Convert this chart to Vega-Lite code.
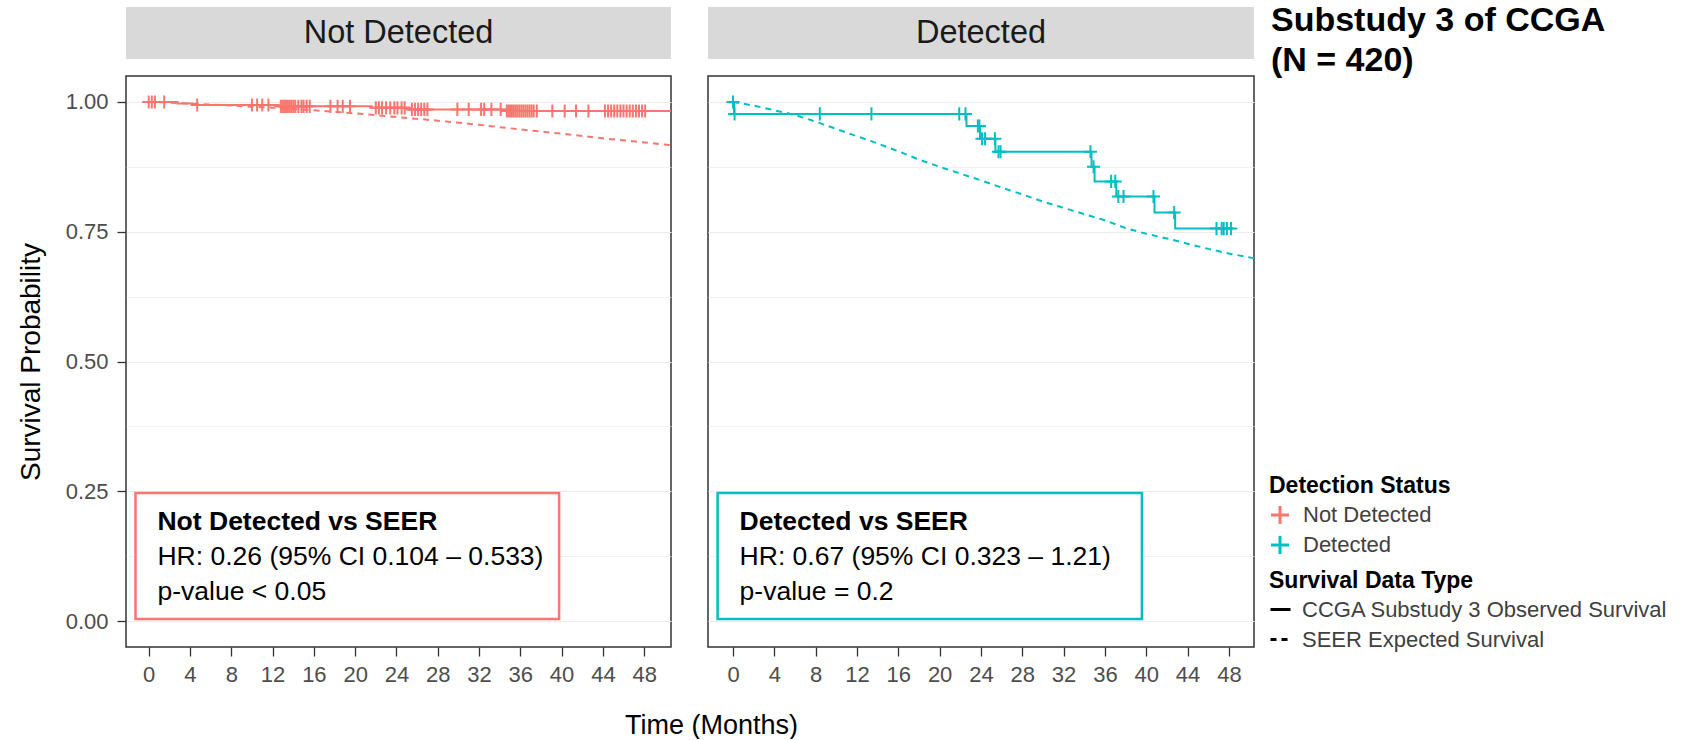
{
  "$schema": "https://vega.github.io/schema/vega-lite/v6.json",
  "padding": {"left": 16, "top": 4, "right": 0, "bottom": 0},
  "background": "white",
  "config": {
    "font": "Liberation Sans",
    "view": {"stroke": null},
    "legend": {
      "titleFont": "Liberation Sans", "labelFont": "Liberation Sans",
      "titleFontSize": 23, "titleFontWeight": "bold", "titleColor": "black",
      "labelFontSize": 22, "labelColor": "#404040",
      "rowPadding": 0, "titlePadding": 6, "labelOffset": 12, "padding": 0,
      "titleLimit": 600, "labelLimit": 600
    }
  },
  "datasets": {
    "km": [
      {"group": "Not Detected", "type": "CCGA Substudy 3 Observed Survival", "t": 0, "surv": 1.0},
      {"group": "Not Detected", "type": "CCGA Substudy 3 Observed Survival", "t": 2.8, "surv": 0.997},
      {"group": "Not Detected", "type": "CCGA Substudy 3 Observed Survival", "t": 4.2, "surv": 0.9943},
      {"group": "Not Detected", "type": "CCGA Substudy 3 Observed Survival", "t": 12.6, "surv": 0.9915},
      {"group": "Not Detected", "type": "CCGA Substudy 3 Observed Survival", "t": 21.6, "surv": 0.9886},
      {"group": "Not Detected", "type": "CCGA Substudy 3 Observed Survival", "t": 25.2, "surv": 0.9857},
      {"group": "Not Detected", "type": "CCGA Substudy 3 Observed Survival", "t": 34.5, "surv": 0.9826},
      {"group": "Not Detected", "type": "CCGA Substudy 3 Observed Survival", "t": 50.6, "surv": 0.9826},
      {"group": "Detected", "type": "CCGA Substudy 3 Observed Survival", "t": 0, "surv": 1.0},
      {"group": "Detected", "type": "CCGA Substudy 3 Observed Survival", "t": 0.1, "surv": 0.977},
      {"group": "Detected", "type": "CCGA Substudy 3 Observed Survival", "t": 22.6, "surv": 0.9535},
      {"group": "Detected", "type": "CCGA Substudy 3 Observed Survival", "t": 23.9, "surv": 0.929},
      {"group": "Detected", "type": "CCGA Substudy 3 Observed Survival", "t": 25.4, "surv": 0.904},
      {"group": "Detected", "type": "CCGA Substudy 3 Observed Survival", "t": 34.7, "surv": 0.875},
      {"group": "Detected", "type": "CCGA Substudy 3 Observed Survival", "t": 35.0, "surv": 0.847},
      {"group": "Detected", "type": "CCGA Substudy 3 Observed Survival", "t": 37.1, "surv": 0.818},
      {"group": "Detected", "type": "CCGA Substudy 3 Observed Survival", "t": 40.8, "surv": 0.787},
      {"group": "Detected", "type": "CCGA Substudy 3 Observed Survival", "t": 42.8, "surv": 0.756},
      {"group": "Detected", "type": "CCGA Substudy 3 Observed Survival", "t": 48.4, "surv": 0.756}
    ],
    "seer": [
      {"group": "Not Detected", "type": "SEER Expected Survival", "t": 0, "surv": 1.0},
      {"group": "Not Detected", "type": "SEER Expected Survival", "t": 4, "surv": 0.997},
      {"group": "Not Detected", "type": "SEER Expected Survival", "t": 8, "surv": 0.993},
      {"group": "Not Detected", "type": "SEER Expected Survival", "t": 12, "surv": 0.989},
      {"group": "Not Detected", "type": "SEER Expected Survival", "t": 16, "surv": 0.984},
      {"group": "Not Detected", "type": "SEER Expected Survival", "t": 20, "surv": 0.978},
      {"group": "Not Detected", "type": "SEER Expected Survival", "t": 24, "surv": 0.971},
      {"group": "Not Detected", "type": "SEER Expected Survival", "t": 28, "surv": 0.964},
      {"group": "Not Detected", "type": "SEER Expected Survival", "t": 32, "surv": 0.956},
      {"group": "Not Detected", "type": "SEER Expected Survival", "t": 36, "surv": 0.947},
      {"group": "Not Detected", "type": "SEER Expected Survival", "t": 40, "surv": 0.939},
      {"group": "Not Detected", "type": "SEER Expected Survival", "t": 44, "surv": 0.930},
      {"group": "Not Detected", "type": "SEER Expected Survival", "t": 48, "surv": 0.922},
      {"group": "Not Detected", "type": "SEER Expected Survival", "t": 50.6, "surv": 0.9166},
      {"group": "Detected", "type": "SEER Expected Survival", "t": 0, "surv": 1.0},
      {"group": "Detected", "type": "SEER Expected Survival", "t": 2, "surv": 0.993},
      {"group": "Detected", "type": "SEER Expected Survival", "t": 4, "surv": 0.984},
      {"group": "Detected", "type": "SEER Expected Survival", "t": 6, "surv": 0.975},
      {"group": "Detected", "type": "SEER Expected Survival", "t": 8, "surv": 0.962},
      {"group": "Detected", "type": "SEER Expected Survival", "t": 10, "surv": 0.948},
      {"group": "Detected", "type": "SEER Expected Survival", "t": 12, "surv": 0.934},
      {"group": "Detected", "type": "SEER Expected Survival", "t": 14, "surv": 0.920},
      {"group": "Detected", "type": "SEER Expected Survival", "t": 16, "surv": 0.905},
      {"group": "Detected", "type": "SEER Expected Survival", "t": 18, "surv": 0.889},
      {"group": "Detected", "type": "SEER Expected Survival", "t": 20, "surv": 0.875},
      {"group": "Detected", "type": "SEER Expected Survival", "t": 22, "surv": 0.862},
      {"group": "Detected", "type": "SEER Expected Survival", "t": 24, "surv": 0.849},
      {"group": "Detected", "type": "SEER Expected Survival", "t": 26, "surv": 0.835},
      {"group": "Detected", "type": "SEER Expected Survival", "t": 28, "surv": 0.822},
      {"group": "Detected", "type": "SEER Expected Survival", "t": 30, "surv": 0.808},
      {"group": "Detected", "type": "SEER Expected Survival", "t": 32, "surv": 0.796},
      {"group": "Detected", "type": "SEER Expected Survival", "t": 34, "surv": 0.784},
      {"group": "Detected", "type": "SEER Expected Survival", "t": 36, "surv": 0.772},
      {"group": "Detected", "type": "SEER Expected Survival", "t": 38, "surv": 0.757},
      {"group": "Detected", "type": "SEER Expected Survival", "t": 40, "surv": 0.746},
      {"group": "Detected", "type": "SEER Expected Survival", "t": 42, "surv": 0.737},
      {"group": "Detected", "type": "SEER Expected Survival", "t": 44, "surv": 0.727},
      {"group": "Detected", "type": "SEER Expected Survival", "t": 46, "surv": 0.717},
      {"group": "Detected", "type": "SEER Expected Survival", "t": 48, "surv": 0.708},
      {"group": "Detected", "type": "SEER Expected Survival", "t": 50.43, "surv": 0.699}
    ],
    "censor": [
      {"group": "Not Detected", "t": 0.0, "surv": 1.0},
      {"group": "Not Detected", "t": 0.3, "surv": 1.0},
      {"group": "Not Detected", "t": 0.6, "surv": 1.0},
      {"group": "Not Detected", "t": 1.5, "surv": 1.0},
      {"group": "Not Detected", "t": 4.7, "surv": 0.9943},
      {"group": "Not Detected", "t": 10.0, "surv": 0.9943},
      {"group": "Not Detected", "t": 10.5, "surv": 0.9943},
      {"group": "Not Detected", "t": 11.0, "surv": 0.9943},
      {"group": "Not Detected", "t": 11.6, "surv": 0.9943},
      {"group": "Not Detected", "t": 12.8, "surv": 0.9915},
      {"group": "Not Detected", "t": 13.0, "surv": 0.9915},
      {"group": "Not Detected", "t": 13.2, "surv": 0.9915},
      {"group": "Not Detected", "t": 13.4, "surv": 0.9915},
      {"group": "Not Detected", "t": 13.6, "surv": 0.9915},
      {"group": "Not Detected", "t": 13.8, "surv": 0.9915},
      {"group": "Not Detected", "t": 14.0, "surv": 0.9915},
      {"group": "Not Detected", "t": 14.2, "surv": 0.9915},
      {"group": "Not Detected", "t": 14.5, "surv": 0.9915},
      {"group": "Not Detected", "t": 14.8, "surv": 0.9915},
      {"group": "Not Detected", "t": 15.0, "surv": 0.9915},
      {"group": "Not Detected", "t": 15.3, "surv": 0.9915},
      {"group": "Not Detected", "t": 15.6, "surv": 0.9915},
      {"group": "Not Detected", "t": 17.6, "surv": 0.9915},
      {"group": "Not Detected", "t": 18.3, "surv": 0.9915},
      {"group": "Not Detected", "t": 18.8, "surv": 0.9915},
      {"group": "Not Detected", "t": 19.5, "surv": 0.9915},
      {"group": "Not Detected", "t": 22.0, "surv": 0.9886},
      {"group": "Not Detected", "t": 22.3, "surv": 0.9886},
      {"group": "Not Detected", "t": 22.6, "surv": 0.9886},
      {"group": "Not Detected", "t": 23.0, "surv": 0.9886},
      {"group": "Not Detected", "t": 23.4, "surv": 0.9886},
      {"group": "Not Detected", "t": 23.8, "surv": 0.9886},
      {"group": "Not Detected", "t": 24.1, "surv": 0.9886},
      {"group": "Not Detected", "t": 24.5, "surv": 0.9886},
      {"group": "Not Detected", "t": 24.8, "surv": 0.9886},
      {"group": "Not Detected", "t": 25.5, "surv": 0.9857},
      {"group": "Not Detected", "t": 25.8, "surv": 0.9857},
      {"group": "Not Detected", "t": 26.1, "surv": 0.9857},
      {"group": "Not Detected", "t": 26.4, "surv": 0.9857},
      {"group": "Not Detected", "t": 26.7, "surv": 0.9857},
      {"group": "Not Detected", "t": 27.0, "surv": 0.9857},
      {"group": "Not Detected", "t": 29.9, "surv": 0.9857},
      {"group": "Not Detected", "t": 31.0, "surv": 0.9857},
      {"group": "Not Detected", "t": 32.2, "surv": 0.9857},
      {"group": "Not Detected", "t": 32.5, "surv": 0.9857},
      {"group": "Not Detected", "t": 33.2, "surv": 0.9857},
      {"group": "Not Detected", "t": 34.1, "surv": 0.9857},
      {"group": "Not Detected", "t": 34.7, "surv": 0.9826},
      {"group": "Not Detected", "t": 34.9, "surv": 0.9826},
      {"group": "Not Detected", "t": 35.1, "surv": 0.9826},
      {"group": "Not Detected", "t": 35.3, "surv": 0.9826},
      {"group": "Not Detected", "t": 35.5, "surv": 0.9826},
      {"group": "Not Detected", "t": 35.7, "surv": 0.9826},
      {"group": "Not Detected", "t": 35.9, "surv": 0.9826},
      {"group": "Not Detected", "t": 36.1, "surv": 0.9826},
      {"group": "Not Detected", "t": 36.3, "surv": 0.9826},
      {"group": "Not Detected", "t": 36.5, "surv": 0.9826},
      {"group": "Not Detected", "t": 36.7, "surv": 0.9826},
      {"group": "Not Detected", "t": 36.9, "surv": 0.9826},
      {"group": "Not Detected", "t": 37.1, "surv": 0.9826},
      {"group": "Not Detected", "t": 37.3, "surv": 0.9826},
      {"group": "Not Detected", "t": 37.6, "surv": 0.9826},
      {"group": "Not Detected", "t": 39.1, "surv": 0.9826},
      {"group": "Not Detected", "t": 40.3, "surv": 0.9826},
      {"group": "Not Detected", "t": 41.4, "surv": 0.9826},
      {"group": "Not Detected", "t": 42.6, "surv": 0.9826},
      {"group": "Not Detected", "t": 44.2, "surv": 0.9826},
      {"group": "Not Detected", "t": 44.5, "surv": 0.9826},
      {"group": "Not Detected", "t": 44.8, "surv": 0.9826},
      {"group": "Not Detected", "t": 45.1, "surv": 0.9826},
      {"group": "Not Detected", "t": 45.4, "surv": 0.9826},
      {"group": "Not Detected", "t": 45.7, "surv": 0.9826},
      {"group": "Not Detected", "t": 46.0, "surv": 0.9826},
      {"group": "Not Detected", "t": 46.3, "surv": 0.9826},
      {"group": "Not Detected", "t": 46.6, "surv": 0.9826},
      {"group": "Not Detected", "t": 46.9, "surv": 0.9826},
      {"group": "Not Detected", "t": 47.2, "surv": 0.9826},
      {"group": "Not Detected", "t": 47.5, "surv": 0.9826},
      {"group": "Not Detected", "t": 47.8, "surv": 0.9826},
      {"group": "Not Detected", "t": 48.1, "surv": 0.9826},
      {"group": "Detected", "t": 0.0, "surv": 1.0},
      {"group": "Detected", "t": 0.15, "surv": 0.977},
      {"group": "Detected", "t": 8.4, "surv": 0.977},
      {"group": "Detected", "t": 13.4, "surv": 0.977},
      {"group": "Detected", "t": 21.9, "surv": 0.977},
      {"group": "Detected", "t": 22.5, "surv": 0.977},
      {"group": "Detected", "t": 23.7, "surv": 0.9535},
      {"group": "Detected", "t": 23.85, "surv": 0.9535},
      {"group": "Detected", "t": 24.1, "surv": 0.929},
      {"group": "Detected", "t": 24.4, "surv": 0.929},
      {"group": "Detected", "t": 25.35, "surv": 0.929},
      {"group": "Detected", "t": 25.7, "surv": 0.904},
      {"group": "Detected", "t": 25.9, "surv": 0.904},
      {"group": "Detected", "t": 34.6, "surv": 0.904},
      {"group": "Detected", "t": 34.9, "surv": 0.875},
      {"group": "Detected", "t": 36.6, "surv": 0.847},
      {"group": "Detected", "t": 37.0, "surv": 0.847},
      {"group": "Detected", "t": 37.3, "surv": 0.818},
      {"group": "Detected", "t": 37.8, "surv": 0.818},
      {"group": "Detected", "t": 40.7, "surv": 0.818},
      {"group": "Detected", "t": 42.7, "surv": 0.787},
      {"group": "Detected", "t": 46.8, "surv": 0.756},
      {"group": "Detected", "t": 47.3, "surv": 0.756},
      {"group": "Detected", "t": 47.5, "surv": 0.756},
      {"group": "Detected", "t": 47.8, "surv": 0.756},
      {"group": "Detected", "t": 48.2, "surv": 0.756}
    ],
    "notes": [
      {"group": "Not Detected", "order": 1, "label": "Not Detected vs SEER"},
      {"group": "Not Detected", "order": 2, "label": "HR: 0.26 (95% CI 0.104 – 0.533)"},
      {"group": "Not Detected", "order": 3, "label": "p-value < 0.05"},
      {"group": "Detected", "order": 1, "label": "Detected vs SEER"},
      {"group": "Detected", "order": 2, "label": "HR: 0.67 (95% CI 0.323 – 1.21)"},
      {"group": "Detected", "order": 3, "label": "p-value = 0.2"}
    ]
  },
  "columns": 3,
  "spacing": {"row": 17, "column": 37},
  "bounds": "flush",
  "concat": [
    {
      "width": 545, "height": 52,
      "view": {"fill": "#d9d9d9", "stroke": null},
      "data": {"values": [{"panel": "Not Detected"}]},
      "mark": {"type": "text", "fontSize": 32.5, "color": "#1a1a1a", "baseline": "middle"},
      "encoding": {
        "x": {"field": "panel", "type": "nominal", "axis": null},
        "text": {"field": "panel"}
      }
    },
    {
      "width": 546, "height": 52,
      "view": {"fill": "#d9d9d9", "stroke": null},
      "data": {"values": [{"panel": "Detected"}]},
      "mark": {"type": "text", "fontSize": 32.5, "color": "#1a1a1a", "baseline": "middle"},
      "encoding": {
        "x": {"field": "panel", "type": "nominal", "axis": null},
        "text": {"field": "panel"}
      }
    },
    {
      "width": 380, "height": 52,
      "view": {"stroke": null},
      "data": {"values": [{"line": "Substudy 3 of CCGA"}, {"line": "(N = 420)"}]},
      "mark": {"type": "text", "align": "left", "baseline": "middle", "fontSize": 34, "fontWeight": "bold", "color": "black", "dx": -20, "dy": 8},
      "encoding": {
        "x": {"datum": 0, "type": "quantitative", "scale": {"domain": [0, 1]}, "axis": null},
        "y": {"field": "line", "type": "nominal", "sort": null, "axis": null, "scale": {"padding": 0.15}},
        "text": {"field": "line"}
      }
    },
    {
      "width": 545, "height": 571,
      "view": {"stroke": "#333333", "strokeWidth": 1.5, "fill": "white"},
      "layer": [
        {
          "data": {"name": "notes"},
          "transform": [{"filter": "datum.group === 'Not Detected' && datum.order === 1"}],
          "mark": {"type": "rect", "fill": "white", "stroke": "#F8766D", "strokeWidth": 2.5},
          "encoding": {
            "x": {"datum": -1.28, "type": "quantitative", "scale": {"domain": [-2.2, 50.6], "nice": false, "zero": false},
              "axis": {"values": [0,4,8,12,16,20,24,28,32,36,40,44,48], "grid": false, "domain": false, "tickSize": 9, "tickColor": "#333333", "tickWidth": 1.3, "labelFontSize": 22, "labelColor": "#4d4d4d", "labelPadding": 8, "labelFlush": false, "labelOverlap": false, "title": "Time (Months)", "titleFontSize": 27, "titleFontWeight": "normal", "titleColor": "black", "titleX": 585, "titlePadding": 27}},
            "x2": {"datum": 39.76},
            "y": {"datum": 0.2467, "type": "quantitative", "scale": {"domain": [-0.05, 1.05], "nice": false, "zero": false},
              "axis": {"values": [0,0.125,0.25,0.375,0.5,0.625,0.75,0.875,1], "labelExpr": "(datum.value*4)%1==0 ? format(datum.value,'.2f') : ''", "grid": true, "gridColor": "#ebebeb", "gridWidth": {"condition": {"test": "(datum.value*4)%1!=0", "value": 0.7}, "value": 1.2}, "domain": false, "tickSize": 9, "tickColor": "#333333", "tickWidth": 1.3, "tickOpacity": {"condition": {"test": "(datum.value*4)%1!=0", "value": 0}, "value": 1}, "labelFontSize": 22, "labelColor": "#4d4d4d", "labelPadding": 9, "labelOverlap": false, "title": "Survival Probability", "titleFontSize": 28, "titleFontWeight": "normal", "titleColor": "black", "titlePadding": 20}},
            "y2": {"datum": 0.004}
          }
        },
        {
          "data": {"name": "seer"},
          "transform": [{"filter": "datum.group === 'Not Detected'"}],
          "mark": {"type": "line", "strokeWidth": 2},
          "encoding": {
            "x": {"field": "t", "type": "quantitative", "scale": {"domain": [-2.2, 50.6], "nice": false, "zero": false}},
            "y": {"field": "surv", "type": "quantitative", "scale": {"domain": [-0.05, 1.05], "nice": false, "zero": false}},
            "color": {"field": "group", "type": "nominal", "scale": {"domain": ["Not Detected", "Detected"], "range": ["#F8766D", "#00BFC4"]},
              "legend": {"title": "Detection Status", "orient": "none", "legendX": 1143, "legendY": 468, "symbolType": "M-1,0H1M0,-1V1", "symbolSize": 324, "symbolStrokeWidth": 3, "labelOffset": 12}},
            "strokeDash": {"field": "type", "type": "nominal", "scale": {"domain": ["CCGA Substudy 3 Observed Survival", "SEER Expected Survival"], "range": [[1, 0], [6, 5]]},
              "legend": {"title": "Survival Data Type", "orient": "none", "legendX": 1143, "legendY": 563, "symbolType": "stroke", "symbolSize": 400, "symbolStrokeWidth": 3, "symbolStrokeColor": "black", "titlePadding": 5, "rowPadding": 7, "labelOffset": 10}}
          }
        },
        {
          "data": {"name": "km"},
          "transform": [{"filter": "datum.group === 'Not Detected'"}],
          "mark": {"type": "line", "interpolate": "step-after", "strokeWidth": 2},
          "encoding": {
            "x": {"field": "t", "type": "quantitative"},
            "y": {"field": "surv", "type": "quantitative"},
            "color": {"field": "group", "type": "nominal"},
            "strokeDash": {"field": "type", "type": "nominal"}
          }
        },
        {
          "data": {"name": "censor"},
          "transform": [{"filter": "datum.group === 'Not Detected'"}],
          "mark": {"type": "point", "shape": "M-1,0H1M0,-1V1", "filled": false, "size": 170, "strokeWidth": 2, "opacity": 1},
          "encoding": {
            "x": {"field": "t", "type": "quantitative"},
            "y": {"field": "surv", "type": "quantitative"},
            "color": {"field": "group", "type": "nominal"}
          }
        },
        {
          "data": {"name": "notes"},
          "transform": [{"filter": "datum.group === 'Not Detected' && datum.order === 1"}],
          "mark": {"type": "text", "align": "left", "baseline": "middle", "fontSize": 26.5, "fontWeight": "bold", "color": "black"},
          "encoding": {"x": {"datum": 0.85, "type": "quantitative"}, "y": {"datum": 0.190, "type": "quantitative"}, "text": {"field": "label"}}
        },
        {
          "data": {"name": "notes"},
          "transform": [{"filter": "datum.group === 'Not Detected' && datum.order === 2"}],
          "mark": {"type": "text", "align": "left", "baseline": "middle", "fontSize": 26.5, "color": "black"},
          "encoding": {"x": {"datum": 0.85, "type": "quantitative"}, "y": {"datum": 0.123, "type": "quantitative"}, "text": {"field": "label"}}
        },
        {
          "data": {"name": "notes"},
          "transform": [{"filter": "datum.group === 'Not Detected' && datum.order === 3"}],
          "mark": {"type": "text", "align": "left", "baseline": "middle", "fontSize": 26.5, "color": "black"},
          "encoding": {"x": {"datum": 0.85, "type": "quantitative"}, "y": {"datum": 0.056, "type": "quantitative"}, "text": {"field": "label"}}
        }
      ]
    },
    {
      "width": 546, "height": 571,
      "view": {"stroke": "#333333", "strokeWidth": 1.5, "fill": "white"},
      "layer": [
        {
          "data": {"name": "notes"},
          "transform": [{"filter": "datum.group === 'Detected' && datum.order === 1"}],
          "mark": {"type": "rect", "fill": "white", "stroke": "#00BFC4", "strokeWidth": 2.5},
          "encoding": {
            "x": {"datum": -1.49, "type": "quantitative", "scale": {"domain": [-2.42, 50.43], "nice": false, "zero": false},
              "axis": {"values": [0,4,8,12,16,20,24,28,32,36,40,44,48], "grid": false, "domain": false, "tickSize": 9, "tickColor": "#333333", "tickWidth": 1.3, "labelFontSize": 22, "labelColor": "#4d4d4d", "labelPadding": 8, "labelFlush": false, "labelOverlap": false, "title": null}},
            "x2": {"datum": 39.58},
            "y": {"datum": 0.2467, "type": "quantitative", "scale": {"domain": [-0.05, 1.05], "nice": false, "zero": false},
              "axis": {"values": [0,0.125,0.25,0.375,0.5,0.625,0.75,0.875,1], "labels": false, "ticks": false, "grid": true, "gridColor": "#ebebeb", "gridWidth": {"condition": {"test": "(datum.value*4)%1!=0", "value": 0.7}, "value": 1.2}, "domain": false, "title": null}},
            "y2": {"datum": 0.004}
          }
        },
        {
          "data": {"name": "seer"},
          "transform": [{"filter": "datum.group === 'Detected'"}],
          "mark": {"type": "line", "strokeWidth": 2},
          "encoding": {
            "x": {"field": "t", "type": "quantitative", "scale": {"domain": [-2.42, 50.43], "nice": false, "zero": false}},
            "y": {"field": "surv", "type": "quantitative", "scale": {"domain": [-0.05, 1.05], "nice": false, "zero": false}},
            "color": {"field": "group", "type": "nominal"},
            "strokeDash": {"field": "type", "type": "nominal"}
          }
        },
        {
          "data": {"name": "km"},
          "transform": [{"filter": "datum.group === 'Detected'"}],
          "mark": {"type": "line", "interpolate": "step-after", "strokeWidth": 2},
          "encoding": {
            "x": {"field": "t", "type": "quantitative"},
            "y": {"field": "surv", "type": "quantitative"},
            "color": {"field": "group", "type": "nominal"},
            "strokeDash": {"field": "type", "type": "nominal"}
          }
        },
        {
          "data": {"name": "censor"},
          "transform": [{"filter": "datum.group === 'Detected'"}],
          "mark": {"type": "point", "shape": "M-1,0H1M0,-1V1", "filled": false, "size": 170, "strokeWidth": 2, "opacity": 1},
          "encoding": {
            "x": {"field": "t", "type": "quantitative"},
            "y": {"field": "surv", "type": "quantitative"},
            "color": {"field": "group", "type": "nominal"}
          }
        },
        {
          "data": {"name": "notes"},
          "transform": [{"filter": "datum.group === 'Detected' && datum.order === 1"}],
          "mark": {"type": "text", "align": "left", "baseline": "middle", "fontSize": 26.5, "fontWeight": "bold", "color": "black"},
          "encoding": {"x": {"datum": 0.64, "type": "quantitative"}, "y": {"datum": 0.190, "type": "quantitative"}, "text": {"field": "label"}}
        },
        {
          "data": {"name": "notes"},
          "transform": [{"filter": "datum.group === 'Detected' && datum.order === 2"}],
          "mark": {"type": "text", "align": "left", "baseline": "middle", "fontSize": 26.5, "color": "black"},
          "encoding": {"x": {"datum": 0.64, "type": "quantitative"}, "y": {"datum": 0.123, "type": "quantitative"}, "text": {"field": "label"}}
        },
        {
          "data": {"name": "notes"},
          "transform": [{"filter": "datum.group === 'Detected' && datum.order === 3"}],
          "mark": {"type": "text", "align": "left", "baseline": "middle", "fontSize": 26.5, "color": "black"},
          "encoding": {"x": {"datum": 0.64, "type": "quantitative"}, "y": {"datum": 0.056, "type": "quantitative"}, "text": {"field": "label"}}
        }
      ]
    }
  ]
}
